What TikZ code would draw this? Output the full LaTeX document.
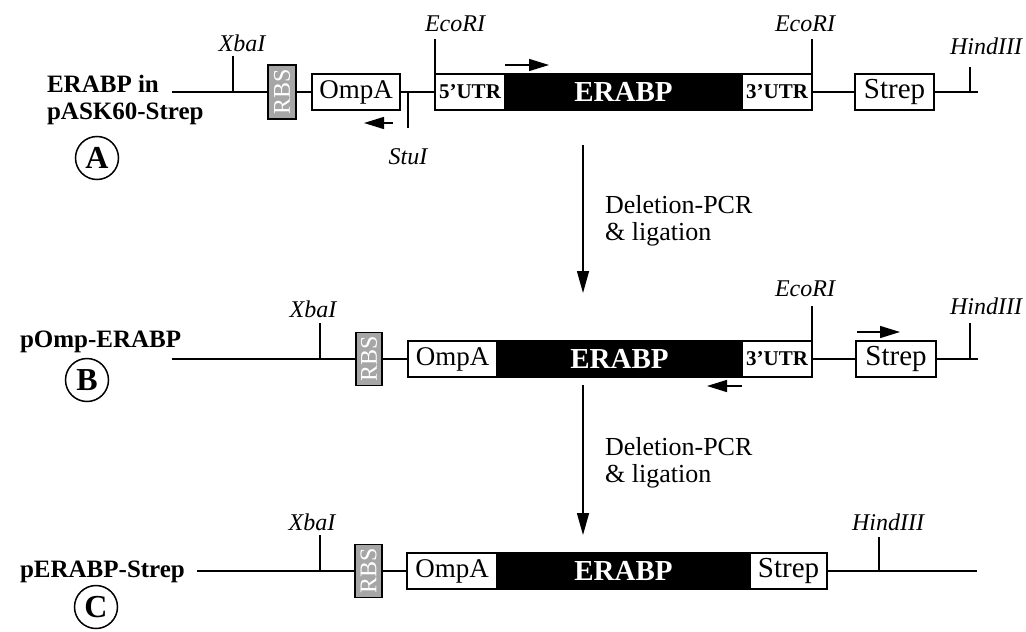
\documentclass[tikz,border=0pt]{standalone}
\usepackage{fontspec}
\setmainfont{Liberation Serif}
\usetikzlibrary{positioning,arrows.meta}

\begin{document}
\begin{tikzpicture}[
    x=0.5pt, y=-0.5pt,
    dna/.style={line width=0.75pt},
    cut/.style={line width=0.75pt},
    box/.style={draw, line width=0.75pt, inner sep=0pt, outer sep=0pt, minimum height=18pt, anchor=west},
    ompbox/.style={box, font=\fontsize{13.5}{14}\selectfont},
    strepbox/.style={box, font=\fontsize{14.5}{15}\selectfont},
    utrbox/.style={box, minimum width=35pt, font=\fontsize{10.5}{11}\selectfont\bfseries},
    cdsbox/.style={box, fill=black, text=white, font=\fontsize{14.5}{15}\selectfont\bfseries},
    rbsbox/.style={draw, line width=0.75pt, fill=gray!70, text=white, inner sep=0pt, outer sep=0pt,
      rotate=90, minimum width=27pt, minimum height=14pt, font=\fontsize{12}{12}\selectfont},
    site/.style={font=\fontsize{12}{13}\selectfont\itshape},
    primer/.style={-{Triangle[length=10pt,width=6pt]}, line width=0.75pt},
    flow/.style={-{Triangle[length=11pt,width=6pt]}, line width=0.75pt},
    plabel/.style={font=\fontsize{12.5}{13.5}\selectfont\bfseries, align=left, anchor=west},
    tag/.style={draw, circle, line width=0.75pt, minimum size=21.5pt, inner sep=0pt,
      font=\fontsize{16}{16}\selectfont\bfseries},
    note/.style={font=\fontsize{13}{13.5}\selectfont, align=left, anchor=west},
  ]
    \useasboundingbox (0,0) rectangle (1026,631);

    % Construct A
    \node[plabel] (nameA) at (40,100) {ERABP in\\pASK60-Strep};
    \node[tag] (tagA) at (97,158) {A};
    \coordinate (a0) at (172,92);
    \node[rbsbox] (rbsA) at (282,92) {RBS};
    \node[ompbox, minimum width=44pt] (ompA) at (312,92) {OmpA};
    \node[utrbox] (utr5A) at (435,92) {5'UTR};
    \node[cdsbox, minimum width=118.5pt] (erabpA) at (utr5A.east) {ERABP};
    \node[utrbox] (utr3A) at (erabpA.east) {3'UTR};
    \node[strepbox, minimum width=39.5pt] (strepA) at (855,92) {Strep};
    \coordinate (a1) at (978,92);
    \draw[dna] (a0) -- (rbsA) -- (ompA) -- (utr5A);
    \draw[dna] (utr3A) -- (strepA) -- (a1);

    % sites A
    \coordinate (xbaA) at (233,92);
    \coordinate (xbaAt) at (233,56);
    \draw[cut] (xbaA) -- (xbaAt);
    \node[site] (xbaAl) at (242,43) {XbaI};
    \coordinate (ecoAt) at (435,39);
    \draw[cut] (utr5A.north west) -- (ecoAt);
    \node[site] (ecoAl) at (455,24) {EcoRI};
    \coordinate (ecoBt) at (812,39);
    \draw[cut] (utr3A.north east) -- (ecoBt);
    \node[site] (ecoBl) at (805,24) {EcoRI};
    \coordinate (stuA) at (408,92);
    \coordinate (stuAt) at (408,128);
    \draw[cut] (stuA) -- (stuAt);
    \node[site] (stuAl) at (408,157) {StuI};
    \coordinate (hindA) at (970,92);
    \coordinate (hindAt) at (970,67);
    \draw[cut] (hindA) -- (hindAt);
    \node[site] (hindAl) at (986,46) {HindIII};

    % primers A
    \coordinate (p1s) at (505,65);
    \coordinate (p1e) at (549,65);
    \draw[primer] (p1s) -- (p1e);
    \coordinate (p2s) at (393,123);
    \coordinate (p2e) at (364,123);
    \draw[primer] (p2s) -- (p2e);

    % step A -> B
    \coordinate (s1s) at (583,145);
    \coordinate (s1e) at (583,293);
    \draw[flow] (s1s) -- (s1e);
    \node[note] (s1n) at (598,221) {Deletion-PCR\\\& ligation};

    % Construct B
    \node[plabel] (nameB) at (13,342) {pOmp-ERABP};
    \node[tag] (tagB) at (87,380) {B};
    \coordinate (b0) at (172,359);
    \node[rbsbox, minimum height=13pt, minimum width=26.5pt] (rbsB) at (369,359) {RBS};
    \node[ompbox, minimum width=44.5pt] (ompB) at (408,359) {OmpA};
    \node[cdsbox, minimum width=122.5pt] (erabpB) at (ompB.east) {ERABP};
    \node[utrbox] (utr3B) at (erabpB.east) {3'UTR};
    \node[strepbox, minimum width=40pt] (strepB) at (856,359) {Strep};
    \coordinate (b1) at (978,359);
    \draw[dna] (b0) -- (rbsB) -- (ompB);
    \draw[dna] (utr3B) -- (strepB) -- (b1);

    % sites B
    \coordinate (xbaB) at (320,359);
    \coordinate (xbaBt) at (320,323);
    \draw[cut] (xbaB) -- (xbaBt);
    \node[site] (xbaBl) at (313,309) {XbaI};
    \coordinate (ecoCt) at (812,306);
    \draw[cut] (utr3B.north east) -- (ecoCt);
    \node[site] (ecoCl) at (805,289) {EcoRI};
    \coordinate (hindB) at (970,359);
    \coordinate (hindBt) at (970,323);
    \draw[cut] (hindB) -- (hindBt);
    \node[site] (hindBl) at (986,306) {HindIII};

    % primers B
    \coordinate (p3s) at (857,332);
    \coordinate (p3e) at (900,332);
    \draw[primer] (p3s) -- (p3e);
    \coordinate (p4s) at (742,386);
    \coordinate (p4e) at (707,386);
    \draw[primer] (p4s) -- (p4e);

    % step B -> C
    \coordinate (s2s) at (583,385);
    \coordinate (s2e) at (583,535);
    \draw[flow] (s2s) -- (s2e);
    \node[note] (s2n) at (598,463) {Deletion-PCR\\\& ligation};

    % Construct C
    \node[plabel] (nameC) at (13,572) {pERABP-Strep};
    \node[tag] (tagC) at (96,607) {C};
    \coordinate (c0) at (197,571);
    \node[rbsbox, minimum height=13.5pt, minimum width=26.5pt] (rbsC) at (368.5,571) {RBS};
    \node[ompbox, minimum width=45pt] (ompC) at (407,571) {OmpA};
    \node[cdsbox, minimum width=126.5pt] (erabpC) at (ompC.east) {ERABP};
    \node[strepbox, minimum width=38.5pt] (strepC) at (erabpC.east) {Strep};
    \coordinate (c1) at (977,571);
    \draw[dna] (c0) -- (rbsC) -- (ompC);
    \draw[dna] (strepC) -- (c1);

    % sites C
    \coordinate (xbaC) at (320,571);
    \coordinate (xbaCt) at (320,535);
    \draw[cut] (xbaC) -- (xbaCt);
    \node[site] (xbaCl) at (312,522) {XbaI};
    \coordinate (hindC) at (879,571);
    \coordinate (hindCt) at (879,537);
    \draw[cut] (hindC) -- (hindCt);
    \node[site] (hindCl) at (888,522) {HindIII};
\end{tikzpicture}
\end{document}
